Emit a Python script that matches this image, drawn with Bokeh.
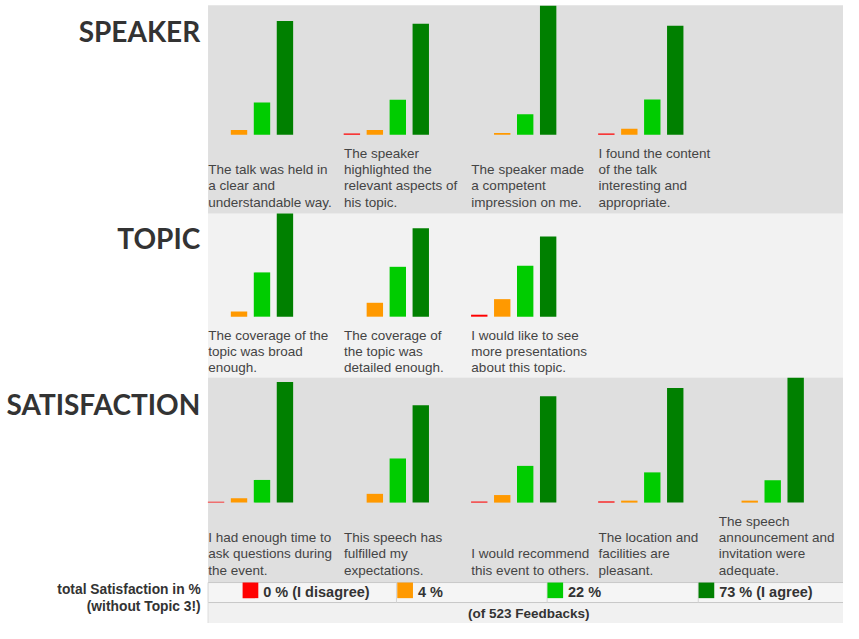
from bokeh.plotting import figure
from bokeh.models import Range1d, ColumnDataSource
from bokeh.core.properties import value
from bokeh.embed import file_html
from bokeh.resources import INLINE

# ---------------- data ----------------
answer_colors = ["#ff0000", "#ff9900", "#00cc00", "#008000"]

sections = ["SPEAKER", "TOPIC", "SATISFACTION"]

speaker_questions = [
    "The talk was held in\na clear and\nunderstandable way.",
    "The speaker\nhighlighted the\nrelevant aspects of\nhis topic.",
    "The speaker made\na competent\nimpression on me.",
    "I found the content\nof the talk\ninteresting and\nappropriate.",
]
speaker_disagree = [0.0, 0.8, 0.0, 0.8]
speaker_rather_disagree = [3.2, 3.2, 1.1, 3.9]
speaker_rather_agree = [21.4, 23.2, 13.5, 23.3]
speaker_agree = [75.3, 73.5, 85.4, 72.2]

topic_questions = [
    "The coverage of the\ntopic was broad\nenough.",
    "The coverage of\nthe topic was\ndetailed enough.",
    "I would like to see\nmore presentations\nabout this topic.",
]
topic_disagree = [0.0, 0.0, 1.3]
topic_rather_disagree = [3.4, 9.2, 11.6]
topic_rather_agree = [29.3, 33.0, 33.7]
topic_agree = [68.2, 58.5, 53.0]

satisfaction_questions = [
    "I had enough time to\nask questions during\nthe event.",
    "This speech has\nfulfilled my\nexpectations.",
    "I would recommend\nthis event to others.",
    "The location and\nfacilities are\npleasant.",
    "The speech\nannouncement and\ninvitation were\nadequate.",
]
satisfaction_disagree = [0.6, 0.0, 0.7, 0.8, 0.0]
satisfaction_rather_disagree = [2.8, 5.8, 5.0, 1.3, 1.3]
satisfaction_rather_agree = [15.0, 29.2, 24.3, 20.0, 14.8]
satisfaction_agree = [79.8, 64.5, 70.3, 75.9, 82.6]

total_pct = [0, 4, 22, 73]
total_notes = ["(I disagree)", "", "", "(I agree)"]
total_title = ["total Satisfaction in %", "(without Topic 3!)"]
feedback_count = 523

# ---------------- layout constants (in reference pixel units) ----------------
COL_X = [211.3, 349.7, 479.5, 609.0, 731.7]
BAR_STEP = 23.4
BAR_W = 16.7
PX_PER_PCT = 1.55
LINE_H = 16.8
PANEL_LEFT = 211.5
PANEL_RIGHT = 860
TOP, BOTTOM = 0, 639

# (band top, band bottom, bar baseline, last text line centre, heading centre, fill)
band_geom = [
    (5.0, 218.7, 137.7, 207.0, 31.5, "#dfdfdf"),
    (218.7, 386.8, 324.3, 376.8, 244.0, "#f2f2f2"),
    (386.8, 597.0, 515.0, 584.5, 413.7, "#dfdfdf"),
]

band_data = [
    (speaker_questions, [speaker_disagree, speaker_rather_disagree, speaker_rather_agree, speaker_agree]),
    (topic_questions, [topic_disagree, topic_rather_disagree, topic_rather_agree, topic_agree]),
    (satisfaction_questions, [satisfaction_disagree, satisfaction_rather_disagree,
                              satisfaction_rather_agree, satisfaction_agree]),
]

HEAD_FONT = value("Lato")
TEXT_FONT = value("Liberation Sans")

p = figure(width=843, height=623, x_range=Range1d(0, 859), y_range=Range1d(BOTTOM, TOP),
           output_backend="svg", toolbar_location=None, min_border=0,
           x_axis_type=None, y_axis_type=None, outline_line_color=None,
           background_fill_color="white", border_fill_color="white")
p.grid.visible = False

extra = {}
for bi, g in enumerate(band_geom):
    base = g[2]
    extra["band%d" % bi] = Range1d(start=(base - BOTTOM) / PX_PER_PCT, end=(base - TOP) / PX_PER_PCT)
p.extra_y_ranges = extra

# backgrounds first
for (btop, bbot, base, tmid, hmid, fill) in band_geom:
    p.quad(left=PANEL_LEFT, right=PANEL_RIGHT, top=btop, bottom=bbot,
           fill_color=fill, line_color=None)

LEG_TOP, LEG_BOT = 597.0, 617.5
p.quad(left=PANEL_LEFT, right=PANEL_RIGHT, top=LEG_TOP, bottom=LEG_BOT,
       fill_color="#f5f5f5", line_color=None)
p.quad(left=PANEL_LEFT, right=PANEL_RIGHT, top=LEG_BOT, bottom=BOTTOM,
       fill_color="#f1f1f1", line_color=None)

for bi, (btop, bbot, base, tmid, hmid, fill) in enumerate(band_geom):
    name = "band%d" % bi
    questions, series = band_data[bi]
    for ai, vals in enumerate(series):
        xs = [COL_X[qi] + BAR_W / 2 + ai * BAR_STEP for qi in range(len(vals))]
        src = ColumnDataSource(dict(x=xs, top=vals))
        p.vbar(x="x", top="top", bottom=0, width=BAR_W, source=src,
               fill_color=answer_colors[ai], line_color=None, y_range_name=name)
    # labels (bottom aligned, one glyph per line)
    lx, ly, lt = [], [], []
    for qi, q in enumerate(questions):
        lines = q.split("\n")
        n = len(lines)
        for li, line in enumerate(lines):
            lx.append(COL_X[qi] + 0.3)
            ly.append(tmid - (n - 1 - li) * LINE_H)
            lt.append(line)
    p.text(x="x", y="y", text="t", source=ColumnDataSource(dict(x=lx, y=ly, t=lt)),
           text_font=TEXT_FONT, text_font_size="13.5px", text_color="#444444",
           text_align="left", text_baseline="middle")
    # heading
    p.text(x=[203.5], y=[hmid], text=[sections[bi]], text_font=HEAD_FONT,
           text_font_size="28px", text_font_style="bold", text_color="#333333",
           text_align="right", text_baseline="middle")

# ---------------- totals row ----------------
p.segment(x0=[PANEL_LEFT, PANEL_LEFT], y0=[LEG_TOP, LEG_BOT],
          x1=[PANEL_RIGHT, PANEL_RIGHT], y1=[LEG_TOP, LEG_BOT],
          line_color="#c8c8c8", line_width=1)
div_x = [PANEL_LEFT, 403.5, 557.0, 711.0]
p.segment(x0=div_x, y0=[LEG_TOP] * 4, x1=div_x, y1=[LEG_BOT] * 4,
          line_color="#d4d4d4", line_width=1)
p.segment(x0=[PANEL_LEFT], y0=[LEG_BOT], x1=[PANEL_LEFT], y1=[BOTTOM],
          line_color="#dcdcdc", line_width=1)

sq_left = [246.7, 404.3, 557.3, 711.3]
SQ = 16.0
p.quad(left=sq_left, right=[s + SQ for s in sq_left], top=[LEG_TOP] * 4,
       bottom=[LEG_TOP + SQ] * 4, fill_color=answer_colors, line_color=None)
leg_text = [("%d %%" % v) + ((" " + n) if n else "") for v, n in zip(total_pct, total_notes)]
p.text(x=[s + SQ + 5 for s in sq_left], y=[606.5] * 4, text=leg_text,
       text_font=TEXT_FONT, text_font_size="14.5px", text_font_style="bold",
       text_color="#333333", text_align="left", text_baseline="middle")

p.text(x=[204.0, 204.0], y=[604.5, 621.5], text=total_title,
       text_font=TEXT_FONT, text_font_size="13.8px", text_font_style="bold",
       text_color="#333333", text_align="right", text_baseline="middle")

p.text(x=[538.3], y=[628.5], text=["(of %d Feedbacks)" % feedback_count],
       text_font=TEXT_FONT, text_font_size="13.5px", text_font_style="bold",
       text_color="#333333", text_align="center", text_baseline="middle")

open("out.html", "w").write(file_html(p, INLINE))
